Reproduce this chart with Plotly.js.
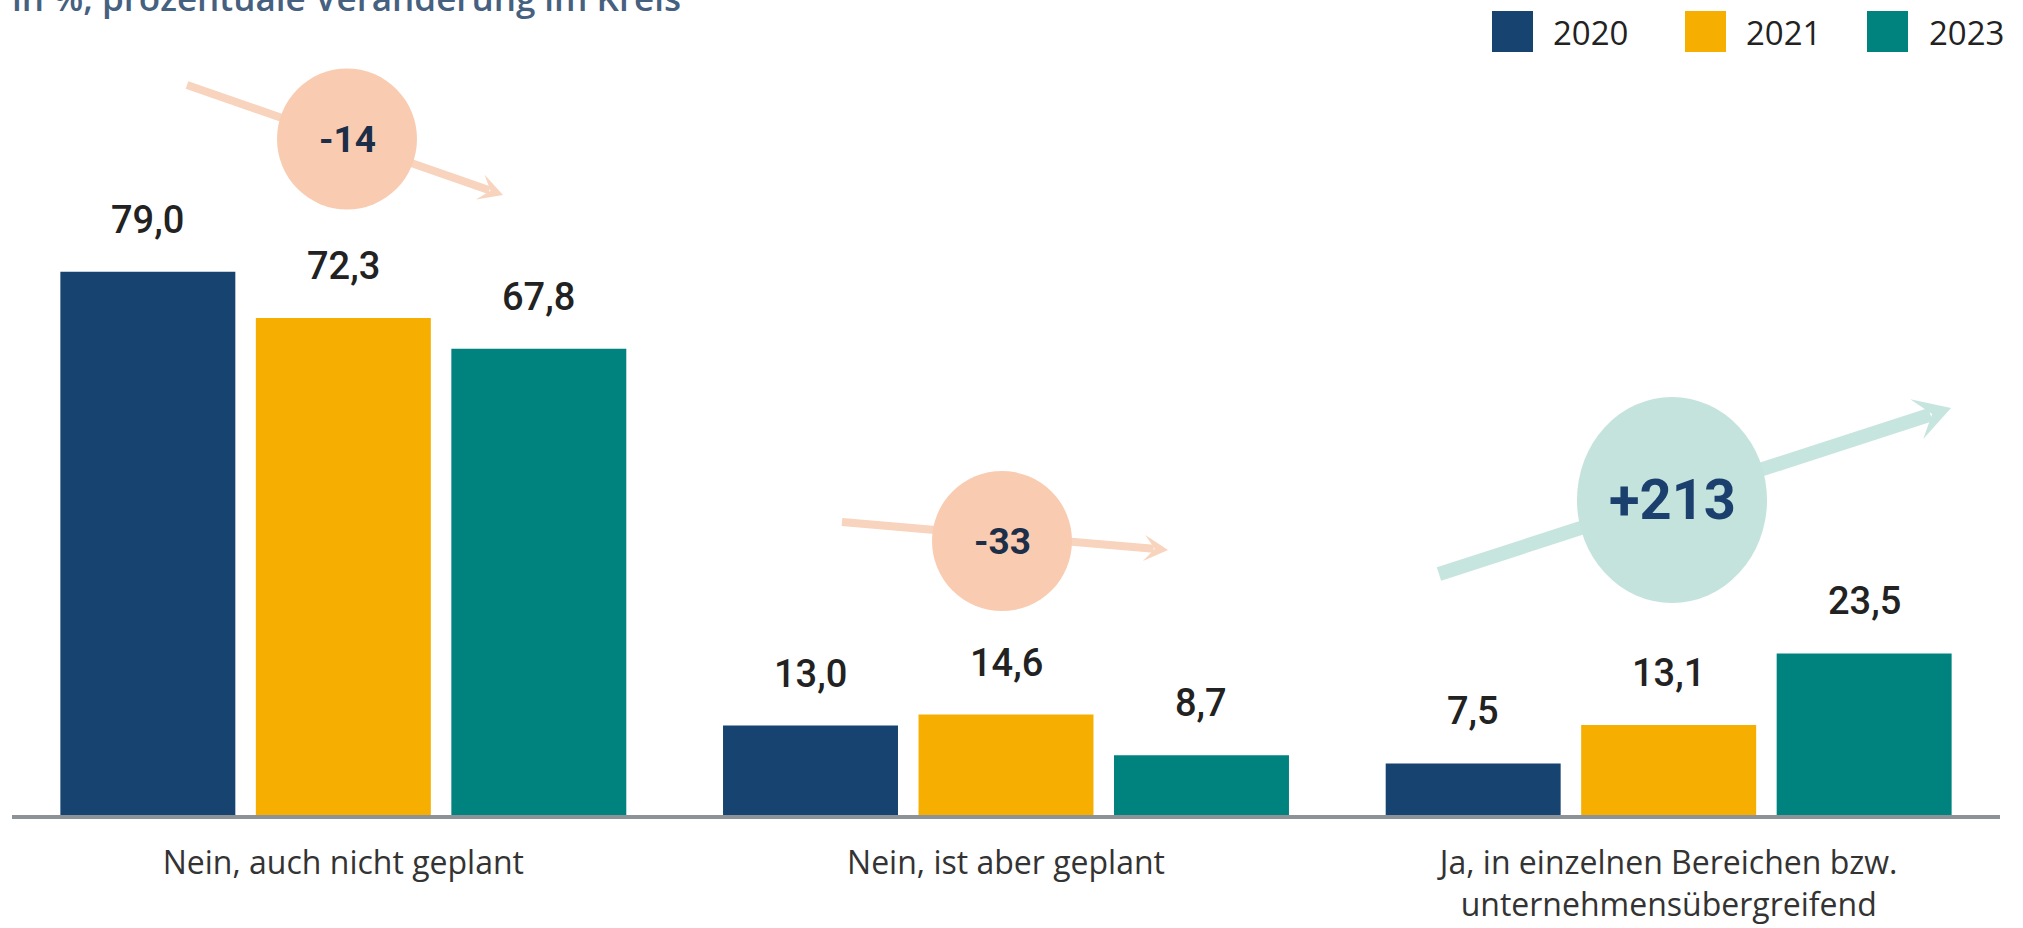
<!DOCTYPE html>
<html>
<head>
<meta charset="utf-8">
<script src="https://cdn.plot.ly/plotly-3.0.1.min.js"></script>
<style>
  html, body { margin: 0; padding: 0; background: #ffffff; }
  #chart { width: 2023px; height: 928px; }
</style>
</head>
<body>
<div id="chart"></div>
<script>
// ---------------- DATA ----------------
const categories = [
  "Nein, auch nicht geplant",
  "Nein, ist aber geplant",
  "Ja, in einzelnen Bereichen bzw.<br>unternehmensübergreifend"
];
const years = ["2020", "2021", "2023"];
const values2020 = [79.0, 13.0, 7.5];
const values2021 = [72.3, 14.6, 13.1];
const values2023 = [67.8, 8.7, 23.5];
const changeLabels = ["-14", "-33", "+213"];
const subtitle = "in %, prozentuale Veränderung im Kreis";

// ---------------- STYLE / LAYOUT ----------------
const W = 2023, H = 928;
const M = { l: 12, r: 23, t: 25, b: 113 };
const plotW = W - M.l - M.r, plotH = H - M.t - M.b;
const yMax = 114.9;
const barGap = 0.115, barGroupGap = 0.105;
const colors = ["#174370", "#f6ae00", "#00837f"];
const series = [values2020, values2021, values2023];

const px2x = px => (px - M.l) / plotW;
const px2y = py => (H - M.b - py) / plotH;

const fmt = v => v.toFixed(1).replace(".", ",");

const traces = series.map((vals, i) => ({
  type: "bar",
  name: years[i],
  x: categories,
  y: vals,
  marker: { color: colors[i], line: { width: 0 } },
  hoverinfo: "skip",
  showlegend: false
}));

// value labels above bars
const unitPx = plotW / 3;
const slotPx = unitPx * (1 - barGap) / 3;
const annotations = [];
series.forEach((vals, i) => {
  vals.forEach((v, k) => {
    annotations.push({
      x: categories[k], xref: "x", y: v, yref: "y",
      xshift: (i - 1) * slotPx, yshift: 52,
      text: fmt(v), showarrow: false, xanchor: "center", yanchor: "middle",
      font: { family: "Roboto, sans-serif", size: 38, weight: 500, color: "#222222" }
    });
  });
});

// change circles and arrows (decorations)
const deco = [
  { cx: 347, cy: 139, w: 140, h: 141, fill: "#f9ccb1", arrow: "#f8d3bd",
    from: [187, 85], to: [503, 195], lw: 8, hl: 24, hw: 13, font: 37, tcol: "#1d2e48" },
  { cx: 1002, cy: 541, w: 140, h: 140, fill: "#f9ccb1", arrow: "#f8d3bd",
    from: [842, 522], to: [1168, 550], lw: 8, hl: 24, hw: 13, font: 37, tcol: "#1d2e48" },
  { cx: 1672, cy: 500, w: 190, h: 206, fill: "#c3e3dc", arrow: "#c7e5df",
    from: [1439, 574], to: [1951, 408], lw: 14, hl: 36, hw: 21, font: 56, tcol: "#1b406d" }
];

const shapes = [];
deco.forEach(d => {
  const dx = d.to[0] - d.from[0], dy = d.to[1] - d.from[1];
  const len = Math.hypot(dx, dy);
  const ux = dx / len, uy = dy / len, nx = -uy, ny = ux;
  const endX = d.to[0] - ux * d.hl * 0.6, endY = d.to[1] - uy * d.hl * 0.6;
  shapes.push({
    type: "line", xref: "paper", yref: "paper", layer: "above",
    x0: px2x(d.from[0]), y0: px2y(d.from[1]), x1: px2x(endX), y1: px2y(endY),
    line: { color: d.arrow, width: d.lw }
  });
  const pts = [
    [d.to[0], d.to[1]],
    [d.to[0] - ux * d.hl + nx * d.hw, d.to[1] - uy * d.hl + ny * d.hw],
    [d.to[0] - ux * d.hl * 0.55, d.to[1] - uy * d.hl * 0.55],
    [d.to[0] - ux * d.hl - nx * d.hw, d.to[1] - uy * d.hl - ny * d.hw]
  ];
  const path = "M" + pts.map(p => px2x(p[0]).toFixed(5) + "," + px2y(p[1]).toFixed(5)).join(" L") + " Z";
  shapes.push({
    type: "path", xref: "paper", yref: "paper", layer: "above",
    path: path, fillcolor: d.arrow, line: { width: 0 }
  });
});
deco.forEach((d, k) => {
  shapes.push({
    type: "circle", xref: "paper", yref: "paper", layer: "above",
    x0: px2x(d.cx - d.w / 2), x1: px2x(d.cx + d.w / 2),
    y0: px2y(d.cy + d.h / 2), y1: px2y(d.cy - d.h / 2),
    fillcolor: d.fill, line: { width: 0 }
  });
  annotations.push({
    x: px2x(d.cx), xref: "paper", y: px2y(d.cy), yref: "paper",
    text: changeLabels[k], showarrow: false, xanchor: "center", yanchor: "middle",
    font: { family: "Roboto, sans-serif", size: d.font, weight: 700, color: d.tcol }
  });
});

// custom legend
const legendItems = [
  { sq: 1492, tx: 1551 },
  { sq: 1685, tx: 1744 },
  { sq: 1867, tx: 1927 }
];
legendItems.forEach((it, i) => {
  shapes.push({
    type: "rect", xref: "paper", yref: "paper", layer: "above",
    x0: px2x(it.sq), x1: px2x(it.sq + 41), y0: px2y(52), y1: px2y(11),
    fillcolor: colors[i], line: { width: 0 }
  });
  annotations.push({
    x: px2x(it.tx), xref: "paper", y: px2y(32), yref: "paper",
    text: years[i], showarrow: false, xanchor: "left", yanchor: "middle",
    font: { family: "Open Sans, sans-serif", size: 33, color: "#222222" }
  });
});

// partially cut subtitle at top (as in the reference)
annotations.push({
  x: px2x(10), xref: "paper", y: px2y(23), yref: "paper",
  text: subtitle, showarrow: false, xanchor: "left", yanchor: "bottom",
  font: { family: "Open Sans, sans-serif", size: 35, weight: 600, color: "#46607f" }
});

const layout = {
  width: W, height: H,
  margin: M,
  paper_bgcolor: "#ffffff", plot_bgcolor: "#ffffff",
  barmode: "group", bargap: barGap, bargroupgap: barGroupGap,
  showlegend: false,
  xaxis: {
    type: "category", range: [-0.5, 2.5], fixedrange: true,
    showline: true, linecolor: "#8d9297", linewidth: 4,
    ticks: "", showgrid: false, zeroline: false,
    tickfont: { family: "Open Sans, sans-serif", size: 32, color: "#333333" },
    ticklabelstandoff: 17
  },
  yaxis: {
    range: [0, yMax], fixedrange: true, visible: false,
    showgrid: false, zeroline: false, showticklabels: false
  },
  shapes: shapes,
  annotations: annotations
};

Plotly.newPlot("chart", traces, layout, { staticPlot: true, displayModeBar: false });
</script>
</body>
</html>
